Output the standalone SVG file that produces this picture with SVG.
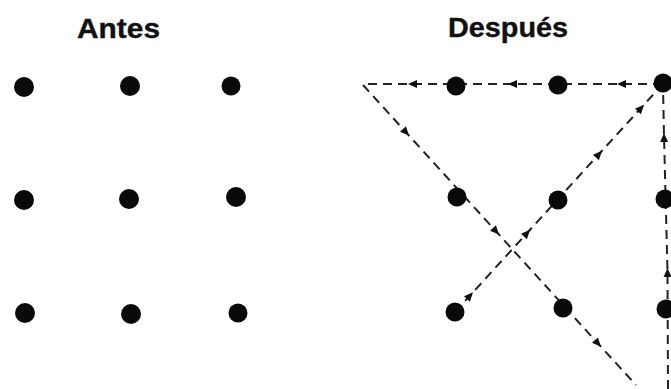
<svg xmlns="http://www.w3.org/2000/svg" width="671" height="389" viewBox="0 0 671 389">
<style>
.title{font-family:"Liberation Sans",Arial,sans-serif;font-weight:bold;font-size:28px;fill:#111;stroke:#111;stroke-width:0.4}
.dot{fill:#0a0a0a}
.conn{fill:none;stroke:#222;stroke-width:2;stroke-dasharray:9 6;marker-mid:url(#arr)}
</style>
<defs>
<marker id="arr" viewBox="-8 -5 12 10" refX="0" refY="0" markerUnits="userSpaceOnUse" markerWidth="12" markerHeight="10" orient="auto">
<path d="M3,0 L-6,-4 L-6,4 z" fill="#111"/>
</marker>
</defs>
<rect width="671" height="389" fill="#fff"/>
<g id="title-antes"><text class="title" x="77" y="37.5" textLength="83" lengthAdjust="spacingAndGlyphs">Antes</text></g>
<g id="title-despues"><text class="title" x="448" y="37" textLength="120" lengthAdjust="spacingAndGlyphs">Después</text></g>
<g id="antes-grid">
<g id="a11"><circle class="dot" cx="24" cy="87" r="10"/></g>
<g id="a12"><circle class="dot" cx="130" cy="86" r="10"/></g>
<g id="a13"><circle class="dot" cx="231" cy="86" r="9.5"/></g>
<g id="a21"><circle class="dot" cx="24" cy="200" r="10"/></g>
<g id="a22"><circle class="dot" cx="129" cy="199" r="10"/></g>
<g id="a23"><circle class="dot" cx="236" cy="197" r="10"/></g>
<g id="a31"><circle class="dot" cx="25" cy="313" r="10"/></g>
<g id="a32"><circle class="dot" cx="131" cy="314" r="10"/></g>
<g id="a33"><circle class="dot" cx="238" cy="313" r="9.5"/></g>
</g>
<g id="connectors">
<path class="conn" d="M455,312 L471,294.5 L528,232 L600,153 L642,107 L661,86"/>
<path class="conn" d="M662,84 L620,84 L511,84 L411,84 L363,84"/>
<path class="conn" d="M363,85 L407,133.4 L497,232.4 L599,344.6 L636,385"/>
<path class="conn" d="M668,389 L667.5,271 L664,136 L663,86"/>
</g>
<g id="despues-grid">
<g id="d11"><circle class="dot" cx="456" cy="86" r="9.5"/></g>
<g id="d12"><circle class="dot" cx="558" cy="85" r="9.5"/></g>
<g id="d13"><circle class="dot" cx="663" cy="83" r="9.5"/></g>
<g id="d21"><circle class="dot" cx="457" cy="197" r="9.5"/></g>
<g id="d22"><circle class="dot" cx="558" cy="200" r="9.5"/></g>
<g id="d23"><circle class="dot" cx="665" cy="199" r="9.5"/></g>
<g id="d31"><circle class="dot" cx="455" cy="312" r="9.5"/></g>
<g id="d32"><circle class="dot" cx="563" cy="308" r="9.5"/></g>
<g id="d33"><circle class="dot" cx="666" cy="309" r="9.5"/></g>
</g>
</svg>
